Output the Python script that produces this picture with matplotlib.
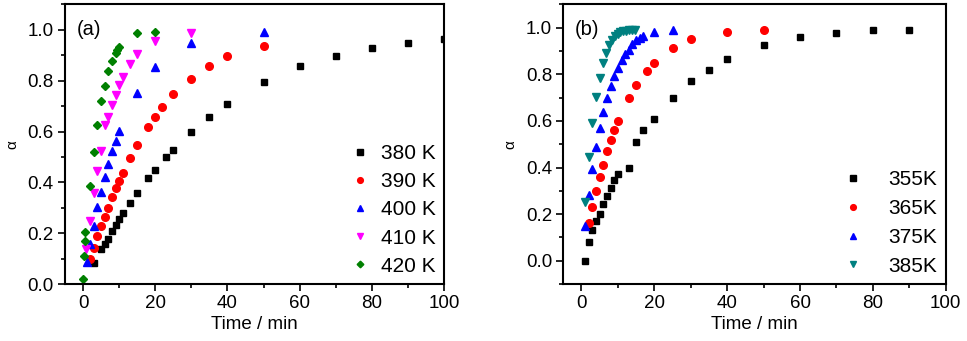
import matplotlib
matplotlib.use("Agg")
from matplotlib import pyplot as plt
from matplotlib.ticker import MultipleLocator

plt.rcParams["font.family"] = ["Liberation Sans", "DejaVu Sans"]

# ---- panel (a) ----
t_380 = [3, 5, 6, 7, 8, 9, 10, 11, 13, 15, 18, 20, 23, 25, 30, 35, 40, 50, 60, 70, 80, 90, 100]
a_380 = [0.083, 0.138, 0.157, 0.177, 0.207, 0.234, 0.256, 0.278, 0.319, 0.357, 0.417, 0.447,
         0.499, 0.528, 0.598, 0.659, 0.709, 0.795, 0.858, 0.899, 0.928, 0.948, 0.965]
t_390 = [2, 3, 4, 5, 6, 7, 8, 9, 10, 11, 13, 15, 18, 20, 22, 25, 30, 35, 40, 50]
a_390 = [0.097, 0.142, 0.188, 0.227, 0.265, 0.298, 0.344, 0.377, 0.407, 0.438, 0.497, 0.547,
         0.617, 0.659, 0.698, 0.747, 0.807, 0.857, 0.896, 0.938]
t_400 = [1, 2, 3, 4, 5, 6, 7, 8, 9, 10, 15, 20, 30, 50]
a_400 = [0.085, 0.157, 0.23, 0.302, 0.361, 0.42, 0.472, 0.522, 0.562, 0.601, 0.751, 0.853, 0.95, 0.991]
t_410 = [0.7, 2, 3, 4, 5, 6, 7, 8, 9, 10, 11, 13, 15, 20, 30]
a_410 = [0.136, 0.25, 0.357, 0.446, 0.525, 0.626, 0.656, 0.706, 0.745, 0.785, 0.816, 0.866,
         0.906, 0.955, 0.987]
t_420 = [0, 0.4, 0.5, 0.6, 2, 3, 4, 5, 6, 7, 8, 9, 9.5, 10, 15, 20]
a_420 = [0.018, 0.111, 0.168, 0.206, 0.387, 0.518, 0.627, 0.719, 0.778, 0.837, 0.878, 0.908,
         0.921, 0.932, 0.987, 0.99]

# ---- panel (b) ----
t_355 = [1, 2, 3, 4, 5, 6, 7, 8, 9, 10, 13, 15, 17, 20, 25, 30, 35, 40, 50, 60, 70, 80, 90]
a_355 = [0.0, 0.079, 0.13, 0.171, 0.201, 0.244, 0.279, 0.314, 0.347, 0.371, 0.4, 0.511, 0.559,
         0.61, 0.7, 0.771, 0.82, 0.867, 0.926, 0.959, 0.979, 0.989, 0.99]
t_365 = [2, 3, 4, 5, 6, 7, 8, 9, 10, 13, 15, 18, 20, 25, 30, 40, 50]
a_365 = [0.161, 0.23, 0.3, 0.361, 0.411, 0.469, 0.519, 0.561, 0.6, 0.7, 0.754, 0.816, 0.85,
         0.911, 0.95, 0.98, 0.99]
t_375 = [1, 2, 3, 4, 5, 6, 7, 8, 9, 10, 11, 12, 13, 14, 15, 16, 17, 20, 25]
a_375 = [0.151, 0.283, 0.393, 0.49, 0.569, 0.64, 0.70, 0.75, 0.793, 0.829, 0.861, 0.886, 0.904,
         0.929, 0.947, 0.957, 0.964, 0.98, 0.99]
t_385 = [1, 2, 3, 4, 5, 6, 6.8, 7.5, 8.3, 9.1, 9.9, 10.7, 11.5, 12.3, 13.1, 13.9, 14.6]
a_385 = [0.254, 0.447, 0.593, 0.701, 0.786, 0.848, 0.89, 0.926, 0.947, 0.964, 0.973, 0.98,
         0.985, 0.988, 0.99, 0.991, 0.992]

fig = plt.figure(figsize=(9.67, 3.41), dpi=100)
ax1 = fig.add_axes([0.0672, 0.167, 0.392, 0.820])
ax2 = fig.add_axes([0.5825, 0.167, 0.3955, 0.820])


def style(ax, ylo, label):
    ax.set_xlim(-5, 100)
    ax.set_ylim(ylo, 1.1)
    ax.xaxis.set_major_locator(MultipleLocator(20))
    ax.xaxis.set_minor_locator(MultipleLocator(10))
    ax.yaxis.set_major_locator(MultipleLocator(0.2))
    ax.yaxis.set_minor_locator(MultipleLocator(0.1))
    ax.yaxis.set_major_formatter(plt.FormatStrFormatter("%.1f"))
    ax.tick_params(which="both", direction="out", top=False, right=False, width=1.2, labelsize=13.5)
    ax.tick_params(which="major", length=5, pad=3)
    ax.tick_params(which="minor", length=3)
    for s in ax.spines.values():
        s.set_linewidth(1.5)
    ax.set_xlabel("Time / min", fontsize=13.5, labelpad=3)
    ax.set_ylabel("α", fontsize=11, labelpad=6)
    ax.text(0.03, 0.91, label, transform=ax.transAxes, fontsize=14.5, va="center")


ms = 5
ax1.plot(t_380, a_380, "s", color="black", ms=ms, label="380 K")
ax1.plot(t_390, a_390, "o", color="red", ms=ms + 0.5, label="390 K")
ax1.plot(t_400, a_400, "^", color="blue", ms=ms + 1, label="400 K")
ax1.plot(t_410, a_410, "v", color="#ff00ff", ms=ms + 1, label="410 K")
ax1.plot(t_420, a_420, "D", color="#008000", ms=ms - 0.5, label="420 K")
style(ax1, 0.0, "(a)")
ax1.legend(loc="lower right", frameon=False, fontsize=15, markerscale=0.75,
           handlelength=1.0, handletextpad=0.5, labelspacing=0.44,
           borderaxespad=0.0)

ax2.plot(t_355, a_355, "s", color="black", ms=ms, label="355K")
ax2.plot(t_365, a_365, "o", color="red", ms=ms + 0.5, label="365K")
ax2.plot(t_375, a_375, "^", color="blue", ms=ms + 1, label="375K")
ax2.plot(t_385, a_385, "v", color="#008080", ms=ms + 1, label="385K")
style(ax2, -0.1, "(b)")
ax2.legend(loc="lower right", frameon=False, fontsize=15, markerscale=0.75,
           handlelength=1.0, handletextpad=1.2, labelspacing=0.47,
           borderaxespad=0.0)

fig.savefig("out.png", dpi=100)
